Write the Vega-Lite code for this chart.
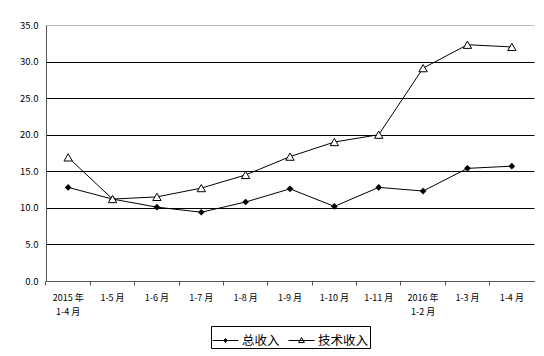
{
  "$schema": "https://vega.github.io/schema/vega-lite/v6.json",
  "autosize": "none",
  "width": 488,
  "height": 256,
  "padding": {"left": 46, "top": 25, "right": 10, "bottom": 75},
  "background": "white",
  "data": {
    "values": [
      {"period": "2015 年\n1-4 月", "series": "总收入", "value": 12.8},
      {"period": "1-5 月", "series": "总收入", "value": 11.2},
      {"period": "1-6 月", "series": "总收入", "value": 10.1},
      {"period": "1-7 月", "series": "总收入", "value": 9.4},
      {"period": "1-8 月", "series": "总收入", "value": 10.8},
      {"period": "1-9 月", "series": "总收入", "value": 12.6},
      {"period": "1-10 月", "series": "总收入", "value": 10.2},
      {"period": "1-11 月", "series": "总收入", "value": 12.8},
      {"period": "2016 年\n1-2 月", "series": "总收入", "value": 12.3},
      {"period": "1-3 月", "series": "总收入", "value": 15.4},
      {"period": "1-4 月", "series": "总收入", "value": 15.7},
      {"period": "2015 年\n1-4 月", "series": "技术收入", "value": 16.9},
      {"period": "1-5 月", "series": "技术收入", "value": 11.2},
      {"period": "1-6 月", "series": "技术收入", "value": 11.5},
      {"period": "1-7 月", "series": "技术收入", "value": 12.7},
      {"period": "1-8 月", "series": "技术收入", "value": 14.5},
      {"period": "1-9 月", "series": "技术收入", "value": 17.0},
      {"period": "1-10 月", "series": "技术收入", "value": 19.0},
      {"period": "1-11 月", "series": "技术收入", "value": 20.0},
      {"period": "2016 年\n1-2 月", "series": "技术收入", "value": 29.1},
      {"period": "1-3 月", "series": "技术收入", "value": 32.3},
      {"period": "1-4 月", "series": "技术收入", "value": 32.0}
    ]
  },
  "config": {
    "view": {"stroke": null},
    "font": "Noto Sans CJK SC"
  },
  "encoding": {
    "x": {
      "field": "period",
      "type": "nominal",
      "sort": null,
      "bandPosition": 0.5,
      "scale": {"type": "band", "paddingInner": 0, "paddingOuter": 0},
      "axis": {
        "title": null,
        "labelAngle": 0,
        "labelExpr": "split(datum.value, '\\n')",
        "labelFont": "Noto Sans CJK SC",
        "labelFontSize": 9,
        "labelColor": "#000",
        "labelPadding": 8,
        "labelLineHeight": 14,
        "bandPosition": 0,
        "labelOffset": 0,
        "domainColor": "#555",
        "tickColor": "#555",
        "tickSize": 4,
        "grid": false
      }
    },
    "y": {
      "field": "value",
      "type": "quantitative",
      "scale": {"domain": [0, 35], "nice": false},
      "axis": {
        "title": null,
        "values": [0, 5, 10, 15, 20, 25, 30, 35],
        "format": ".1f",
        "labelFont": "Noto Sans CJK SC",
        "labelFontSize": 9.5,
        "labelColor": "#000",
        "labelPadding": 8,
        "ticks": false,
        "domainColor": "#555",
        "grid": true,
        "gridColor": {"condition": {"test": "datum.value == 35", "value": "#bbbbbb"}, "value": "#000"},
        "gridWidth": 1.2
      }
    }
  },
  "layer": [
    {
      "mark": {"type": "line", "color": "#000", "strokeWidth": 1},
      "encoding": {"detail": {"field": "series"}}
    },
    {
      "transform": [{"filter": "datum.series == '总收入'"}],
      "mark": {"type": "point", "shape": "diamond", "filled": true, "color": "#000", "opacity": 1, "size": 45}
    },
    {
      "transform": [{"filter": "datum.series == '技术收入'"}],
      "mark": {"type": "point", "shape": "triangle-up", "filled": true, "fill": "#fff", "stroke": "#000", "strokeWidth": 1, "opacity": 1, "size": 70}
    },
    {
      "mark": {"type": "point", "opacity": 0, "strokeWidth": 1, "filled": true},
      "encoding": {
        "shape": {
          "field": "series",
          "type": "nominal",
          "scale": {"domain": ["总收入", "技术收入"], "range": ["M-1,0L1,0M0,-0.15L0.13,0L0,0.15L-0.13,0Z", "M-1,0L1,0M0,-0.23L0.22,0.16L-0.22,0.16Z"]},
          "legend": {
            "title": null,
            "orient": "none",
            "legendX": 165,
            "legendY": 301,
            "direction": "horizontal",
            "strokeColor": "#000",
            "padding": 1,
            "labelFont": "Noto Sans CJK SC",
            "labelFontSize": 12.5,
            "labelColor": "#000",
            "symbolSize": 676,
            "symbolOpacity": 1,
            "symbolStrokeWidth": 1,
            "columnPadding": 6,
            "labelOffset": 3
          }
        },
        "fill": {
          "field": "series",
          "type": "nominal",
          "scale": {"domain": ["总收入", "技术收入"], "range": ["#000", "#fff"]}
        },
        "stroke": {
          "field": "series",
          "type": "nominal",
          "scale": {"domain": ["总收入", "技术收入"], "range": ["#000", "#000"]}
        }
      }
    }
  ]
}
